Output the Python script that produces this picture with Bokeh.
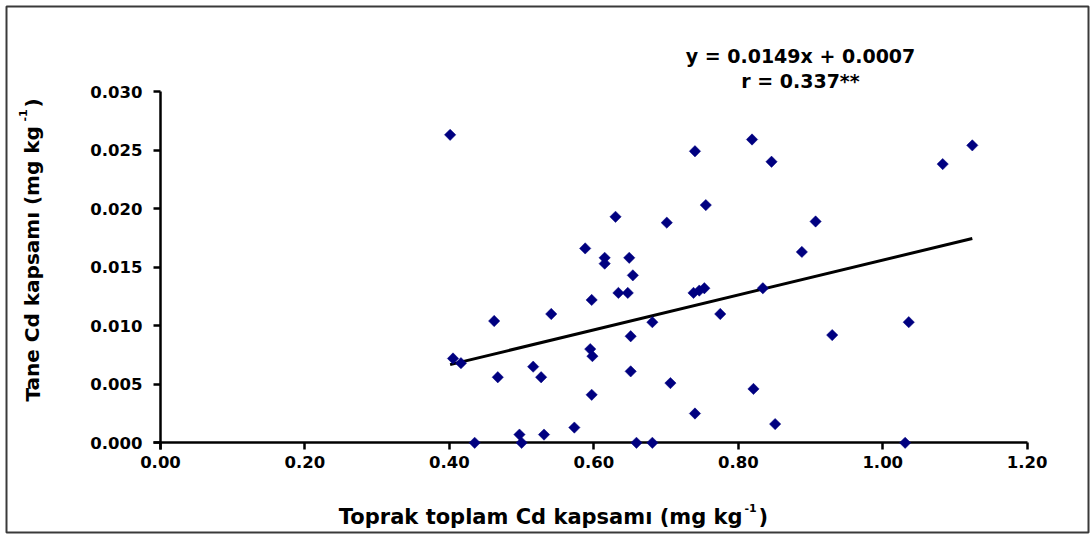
from bokeh.plotting import figure
from bokeh.models import FixedTicker, Label, BoxAnnotation, Range1d
from bokeh.embed import file_html
from bokeh.resources import INLINE

# Soil total Cd (x) against grain Cd (y), mg kg-1
soil_cd = [0.401, 0.740, 0.630, 0.701, 0.588, 0.615, 0.615, 0.649, 0.654, 0.634,
           0.647, 0.597, 0.738, 0.746, 0.753, 0.755, 0.405, 0.416, 0.462, 0.541,
           0.681, 0.651, 0.595, 0.598, 0.516, 0.527, 0.467, 0.651, 0.706, 0.597,
           0.740, 0.573, 0.531, 0.497, 0.435, 0.500, 0.659, 0.681, 0.819, 0.846,
           1.124, 1.083, 0.907, 0.888, 0.834, 0.775, 0.930, 1.036, 0.821, 0.851,
           1.031]
grain_cd = [0.0263, 0.0249, 0.0193, 0.0188, 0.0166, 0.0158, 0.0153, 0.0158, 0.0143, 0.0128,
            0.0128, 0.0122, 0.0128, 0.0130, 0.0132, 0.0203, 0.0072, 0.0068, 0.0104, 0.0110,
            0.0103, 0.0091, 0.0080, 0.0074, 0.0065, 0.0056, 0.0056, 0.0061, 0.0051, 0.0041,
            0.0025, 0.0013, 0.0007, 0.0007, 0.0000, 0.0000, 0.0000, 0.0000, 0.0259, 0.0240,
            0.0254, 0.0238, 0.0189, 0.0163, 0.0132, 0.0110, 0.0092, 0.0103, 0.0046, 0.0016,
            0.0000]

slope = 0.0149
intercept = 0.0007
equation_text = "y = 0.0149x + 0.0007"
r_text = "r = 0.337**"

x_ticks = [0.0, 0.2, 0.4, 0.6, 0.8, 1.0, 1.2]
x_tick_labels = ["0.00", "0.20", "0.40", "0.60", "0.80", "1.00", "1.20"]
y_ticks = [0.0, 0.005, 0.010, 0.015, 0.020, 0.025, 0.030]
y_tick_labels = ["0.000", "0.005", "0.010", "0.015", "0.020", "0.025", "0.030"]

x_title = "Toprak toplam Cd kapsamı (mg kg"
y_title = "Tane Cd kapsamı (mg kg"
unit_sup = "-1"

FONT = "DejaVu Sans"
W, H = 1091, 536

# pixel placement of the data origin and scale (the frame spans the whole canvas)
ORIGIN_PX, ORIGIN_PY = 160.0, 442.3
PX_PER_X, PX_PER_Y = 722.25, 11710.0


def px2x(px):
    return (px - ORIGIN_PX) / PX_PER_X


def px2y(py):
    return (ORIGIN_PY - py) / PX_PER_Y


def text_label(px, py, text, size, align="left", angle=0.0):
    return Label(x=px2x(px), y=px2y(py), text=text, text_align=align, angle=angle,
                 text_baseline="alphabetic", text_font=FONT, text_font_style="bold",
                 text_font_size=size, text_color="black")


p = figure(width=W, height=H, frame_width=W, frame_height=H,
           min_border=0,
           x_range=Range1d(px2x(0), px2x(W)), y_range=Range1d(px2y(H), px2y(0)),
           output_backend="svg", toolbar_location=None)
p.background_fill_color = "white"
p.border_fill_color = "white"
p.outline_line_color = None
p.grid.visible = False

for ax in (p.xaxis[0], p.yaxis[0]):
    ax.fixed_location = 0
    ax.axis_line_width = 2.5
    ax.axis_line_color = "black"
    ax.major_tick_line_width = 2.5
    ax.major_tick_line_color = "black"
    ax.major_tick_in = 0
    ax.major_tick_out = 7
    ax.minor_tick_line_color = None
    ax.major_label_text_font = FONT
    ax.major_label_text_font_style = "bold"
    ax.major_label_text_font_size = "16.5px"
    ax.major_label_text_color = "black"

p.xaxis[0].ticker = FixedTicker(ticks=x_ticks)
p.xaxis[0].major_label_overrides = dict(zip(x_ticks, x_tick_labels))
p.xaxis[0].major_label_standoff = 6
p.xaxis[0].bounds = (px2x(ORIGIN_PX - 7), x_ticks[-1])
p.yaxis[0].ticker = FixedTicker(ticks=y_ticks)
p.yaxis[0].major_label_overrides = dict(zip(y_ticks, y_tick_labels))
p.yaxis[0].major_label_standoff = 11
p.yaxis[0].bounds = (px2y(ORIGIN_PY + 7), y_ticks[-1])

# regression line over the observed x span
fit_x = [min(soil_cd), max(soil_cd)]
fit_y = [slope * v + intercept for v in fit_x]
p.line(fit_x, fit_y, line_color="black", line_width=3)

pts = p.scatter(soil_cd, grain_cd, marker="square", angle=0.7854, size=8,
                fill_color="#000080", line_color="#000080", line_width=0.5)
pts.level = "overlay"

# equation and correlation
p.add_layout(text_label(800, 55, equation_text, "19px", align="center"))
p.add_layout(text_label(800, 80, r_text, "19px", align="center"))

# x axis title with superscript unit
p.add_layout(text_label(742, 516, x_title, "21px", align="right"))
p.add_layout(text_label(744, 507, unit_sup, "11px"))
p.add_layout(text_label(758, 516, ")", "21px"))

# y axis title, rotated, with superscript unit
p.add_layout(text_label(32, 401, y_title, "20px", angle=1.5708))
p.add_layout(text_label(23, 121, unit_sup, "11px", angle=1.5708))
p.add_layout(text_label(32, 107, ")", "20px", angle=1.5708))

# outer chart border
p.add_layout(BoxAnnotation(left=px2x(6), right=px2x(1088), top=px2y(6), bottom=px2y(532),
                           fill_alpha=0, line_color="#3a3a3a", line_alpha=1.0,
                           line_width=2, level="overlay"))

open("out.html", "w").write(file_html(p, INLINE))
